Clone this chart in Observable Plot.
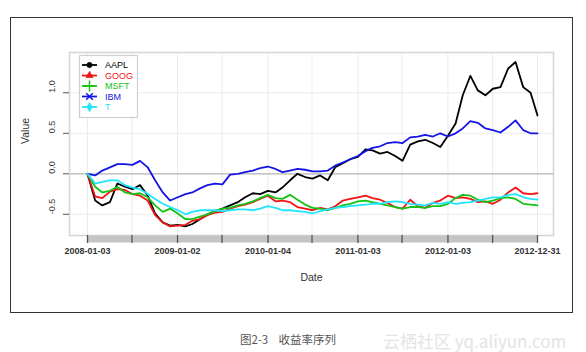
<!DOCTYPE html>
<html><head><meta charset="utf-8">
<script src="https://cdn.jsdelivr.net/npm/d3@7"></script>
<script src="https://cdn.jsdelivr.net/npm/@observablehq/plot@0.6"></script>
<style>
body{margin:0;background:#fff;width:586px;height:352px;overflow:hidden;position:relative;font-family:"Liberation Sans",Arial,sans-serif;}
#chart{position:absolute;left:0;top:0;}
#frame{position:absolute;left:10px;top:17px;width:561px;height:294px;border:1.5px solid #333;pointer-events:none;}
#caption{position:absolute;left:240px;top:331px;font-size:11.5px;color:#555;white-space:pre;font-family:"Noto Sans CJK SC",sans-serif;}
#wm{position:absolute;left:383px;top:328px;font-size:17px;color:#e4e4e4;white-space:pre;font-family:"Noto Sans CJK SC",sans-serif;}
</style></head><body>
<div id="chart"></div><div id="frame"></div>
<div id="caption">图2-3    收益率序列</div>
<div id="wm">云栖社区 yq.aliyun.com</div>
<script>
const dates = ["2008-01-03","2008-02-03","2008-03-03","2008-04-03","2008-05-03","2008-06-03","2008-07-03","2008-08-03","2008-09-03","2008-10-03","2008-11-03","2008-12-03",
"2009-01-03","2009-02-03","2009-03-03","2009-04-03","2009-05-03","2009-06-03","2009-07-03","2009-08-03","2009-09-03","2009-10-03","2009-11-03","2009-12-03",
"2010-01-03","2010-02-03","2010-03-03","2010-04-03","2010-05-03","2010-06-03","2010-07-03","2010-08-03","2010-09-03","2010-10-03","2010-11-03","2010-12-03",
"2011-01-03","2011-02-03","2011-03-03","2011-04-03","2011-05-03","2011-06-03","2011-07-03","2011-08-03","2011-09-03","2011-10-03","2011-11-03","2011-12-03",
"2012-01-03","2012-02-03","2012-03-03","2012-04-03","2012-05-03","2012-06-03","2012-07-03","2012-08-03","2012-09-03","2012-10-03","2012-11-03","2012-12-03","2012-12-31"];

const AAPL = [0,-0.33,-0.39,-0.35,-0.12,-0.16,-0.19,-0.14,-0.27,-0.49,-0.6,-0.64,
-0.63,-0.65,-0.62,-0.56,-0.5,-0.46,-0.43,-0.39,-0.35,-0.29,-0.24,-0.25,
-0.21,-0.23,-0.17,-0.08,0.0,-0.04,-0.06,-0.02,-0.08,0.08,0.13,0.18,
0.21,0.3,0.29,0.25,0.27,0.22,0.16,0.36,0.4,0.42,0.38,0.33,
0.47,0.62,0.97,1.21,1.03,0.97,1.05,1.07,1.3,1.38,1.07,1.0,0.72];
const GOOG = [0,-0.28,-0.3,-0.22,-0.19,-0.2,-0.25,-0.27,-0.33,-0.51,-0.6,-0.65,
-0.64,-0.63,-0.58,-0.56,-0.51,-0.48,-0.47,-0.43,-0.4,-0.38,-0.35,-0.31,
-0.27,-0.34,-0.33,-0.35,-0.41,-0.43,-0.45,-0.42,-0.44,-0.4,-0.33,-0.31,
-0.29,-0.27,-0.3,-0.32,-0.36,-0.41,-0.43,-0.32,-0.4,-0.42,-0.36,-0.33,
-0.27,-0.3,-0.29,-0.31,-0.35,-0.34,-0.37,-0.32,-0.23,-0.17,-0.24,-0.25,-0.24];
const MSFT = [0,-0.16,-0.23,-0.21,-0.16,-0.23,-0.25,-0.24,-0.29,-0.39,-0.47,-0.43,
-0.49,-0.56,-0.56,-0.53,-0.5,-0.46,-0.43,-0.42,-0.39,-0.37,-0.34,-0.3,
-0.26,-0.3,-0.31,-0.26,-0.32,-0.38,-0.42,-0.43,-0.45,-0.42,-0.39,-0.37,
-0.34,-0.33,-0.35,-0.37,-0.39,-0.41,-0.43,-0.41,-0.41,-0.42,-0.4,-0.4,
-0.37,-0.3,-0.26,-0.27,-0.32,-0.35,-0.33,-0.3,-0.29,-0.31,-0.37,-0.38,-0.39];
const IBM = [0,-0.02,0.04,0.08,0.12,0.12,0.11,0.16,0.08,-0.08,-0.23,-0.33,
-0.29,-0.25,-0.23,-0.18,-0.14,-0.12,-0.13,-0.01,0.0,0.02,0.04,0.07,
0.09,0.06,0.02,0.04,0.06,0.05,0.03,0.03,0.04,0.1,0.14,0.18,
0.22,0.28,0.32,0.34,0.38,0.39,0.38,0.45,0.46,0.48,0.46,0.5,
0.46,0.5,0.56,0.65,0.63,0.56,0.54,0.51,0.58,0.66,0.54,0.5,0.5];
const T = [0,-0.12,-0.1,-0.08,-0.08,-0.14,-0.17,-0.19,-0.25,-0.31,-0.37,-0.41,
-0.45,-0.5,-0.47,-0.45,-0.45,-0.45,-0.46,-0.45,-0.44,-0.44,-0.45,-0.43,
-0.4,-0.42,-0.45,-0.45,-0.46,-0.47,-0.49,-0.46,-0.44,-0.42,-0.41,-0.4,
-0.39,-0.38,-0.37,-0.37,-0.35,-0.34,-0.35,-0.37,-0.38,-0.39,-0.36,-0.37,
-0.35,-0.37,-0.36,-0.35,-0.33,-0.31,-0.29,-0.29,-0.26,-0.25,-0.29,-0.31,-0.32];

const seriesNames = ["AAPL","GOOG","MSFT","IBM","T"];
const seriesColors = ["#000000","#f01414","#14c314","#1414e6","#22e4ff"];
const gridDates = ["2008-01-03","2008-07-01","2009-01-02","2009-07-01","2010-01-04","2010-07-01","2011-01-03","2011-07-01","2012-01-03","2012-07-02","2012-12-31"];
const labelDates = ["2008-01-03","2009-01-02","2010-01-04","2011-01-03","2012-01-03","2012-12-31"];
const yTicks = [-0.5, 0, 0.5, 1.0];
const yTickLabels = ["-0.5","0.0","0.5","1.0"];
const yGrid = [-0.5, 0.5, 1.0];

const parse = d3.utcParse("%Y-%m-%d");
const seriesValues = {AAPL, GOOG, MSFT, IBM, T};
const rows = seriesNames.flatMap(name => dates.map((d, i) => ({date: parse(d), value: seriesValues[name][i], series: name})));
const gridD = gridDates.map(parse);
const labelD = labelDates.map(parse);

function axisBand(index, scales, values, dims) {
  const x0 = scales.x(gridD[0]), x1 = scales.x(gridD[gridD.length - 1]);
  const yb = dims.height - dims.marginBottom;
  const g = d3.create("svg:g");
  g.append("rect").attr("x", x0).attr("y", yb + 0.5).attr("width", x1 - x0).attr("height", 7).attr("fill", "#c4c4c4");
  return g.node();
}

const legendSymbols = [
  {type: d3.symbolCircle, size: 22, fill: true},
  {type: d3.symbolTriangle, size: 24, fill: true},
  {type: d3.symbolPlus, size: 40, fill: false},
  {type: d3.symbolTimes, size: 30, fill: false},
  {type: d3.symbolDiamond, size: 26, fill: true}
];

function legend(index, scales, values, dims) {
  const g = d3.create("svg:g");
  g.append("rect").attr("x", 79.5).attr("y", 55.5).attr("width", 58).attr("height", 62)
    .attr("fill", "white").attr("stroke", "#cfcfcf").attr("stroke-width", 1.2);
  seriesNames.forEach((name, i) => {
    const y = 65 + i * 10.5;
    const c = seriesColors[i];
    g.append("line").attr("x1", 82).attr("x2", 97).attr("y1", y).attr("y2", y).attr("stroke", c).attr("stroke-width", 1.8);
    const s = legendSymbols[i];
    g.append("path").attr("transform", `translate(89.5,${y})`).attr("d", d3.symbol(s.type, s.size)())
      .attr("fill", s.fill ? c : "none").attr("stroke", c).attr("stroke-width", s.fill ? 0.5 : 1.5);
    g.append("text").attr("x", 105).attr("y", y).attr("dy", "0.35em").attr("fill", c)
      .attr("text-anchor", "start").attr("font-size", 9)
      .attr("font-family", "Liberation Sans, Arial, sans-serif").text(name);
  });
  return g.node();
}

const chart = Plot.plot({
  width: 586,
  height: 320,
  marginLeft: 69,
  marginRight: 33,
  marginTop: 52,
  marginBottom: 85,
  style: {background: "transparent", fontFamily: "Liberation Sans, Arial, sans-serif", fontSize: "9px", color: "#222"},
  x: {type: "utc", domain: [parse(dates[0]), parse(dates[dates.length - 1])], range: [87, 537]},
  y: {domain: [-0.5, 1.0], range: [213.8, 92.3]},
  color: {domain: seriesNames, range: seriesColors},
  marks: [
    Plot.ruleX(gridD, {stroke: "#ebebeb", strokeWidth: 1}),
    Plot.ruleY(yGrid, {stroke: "#ebebeb", strokeWidth: 1}),
    Plot.ruleY([0], {stroke: "#b4b4b4", strokeWidth: 1.2}),
    Plot.frame({stroke: "#d6d6d6", strokeWidth: 1.6}),
    axisBand,
    Plot.axisX({ticks: gridD, tickSize: 8, tickFormat: () => "", label: null, stroke: "#555", strokeWidth: 1.3}),
    Plot.axisY({ticks: yTicks, tickSize: 6, tickFormat: () => "", label: null, stroke: "#555"}),
    Plot.text(labelD, {x: d => d, text: labelDates, frameAnchor: "bottom", dy: 18, fill: "#333", fontSize: 9, fontWeight: 600}),
    Plot.text(yTicks, {y: d => d, text: yTickLabels, frameAnchor: "left", dx: -17, rotate: -90, fill: "#333", fontSize: 9}),
    Plot.text(["Date"], {frameAnchor: "bottom", dy: 45, fill: "#333", fontSize: 10.5}),
    Plot.text(["Value"], {frameAnchor: "left", dx: -44, rotate: -90, fill: "#333", fontSize: 10.5}),
    Plot.line(rows, {x: "date", y: "value", z: "series", stroke: "series", strokeWidth: 1.8}),
    legend
  ]
});
document.getElementById("chart").appendChild(chart);
</script>
</body></html>
